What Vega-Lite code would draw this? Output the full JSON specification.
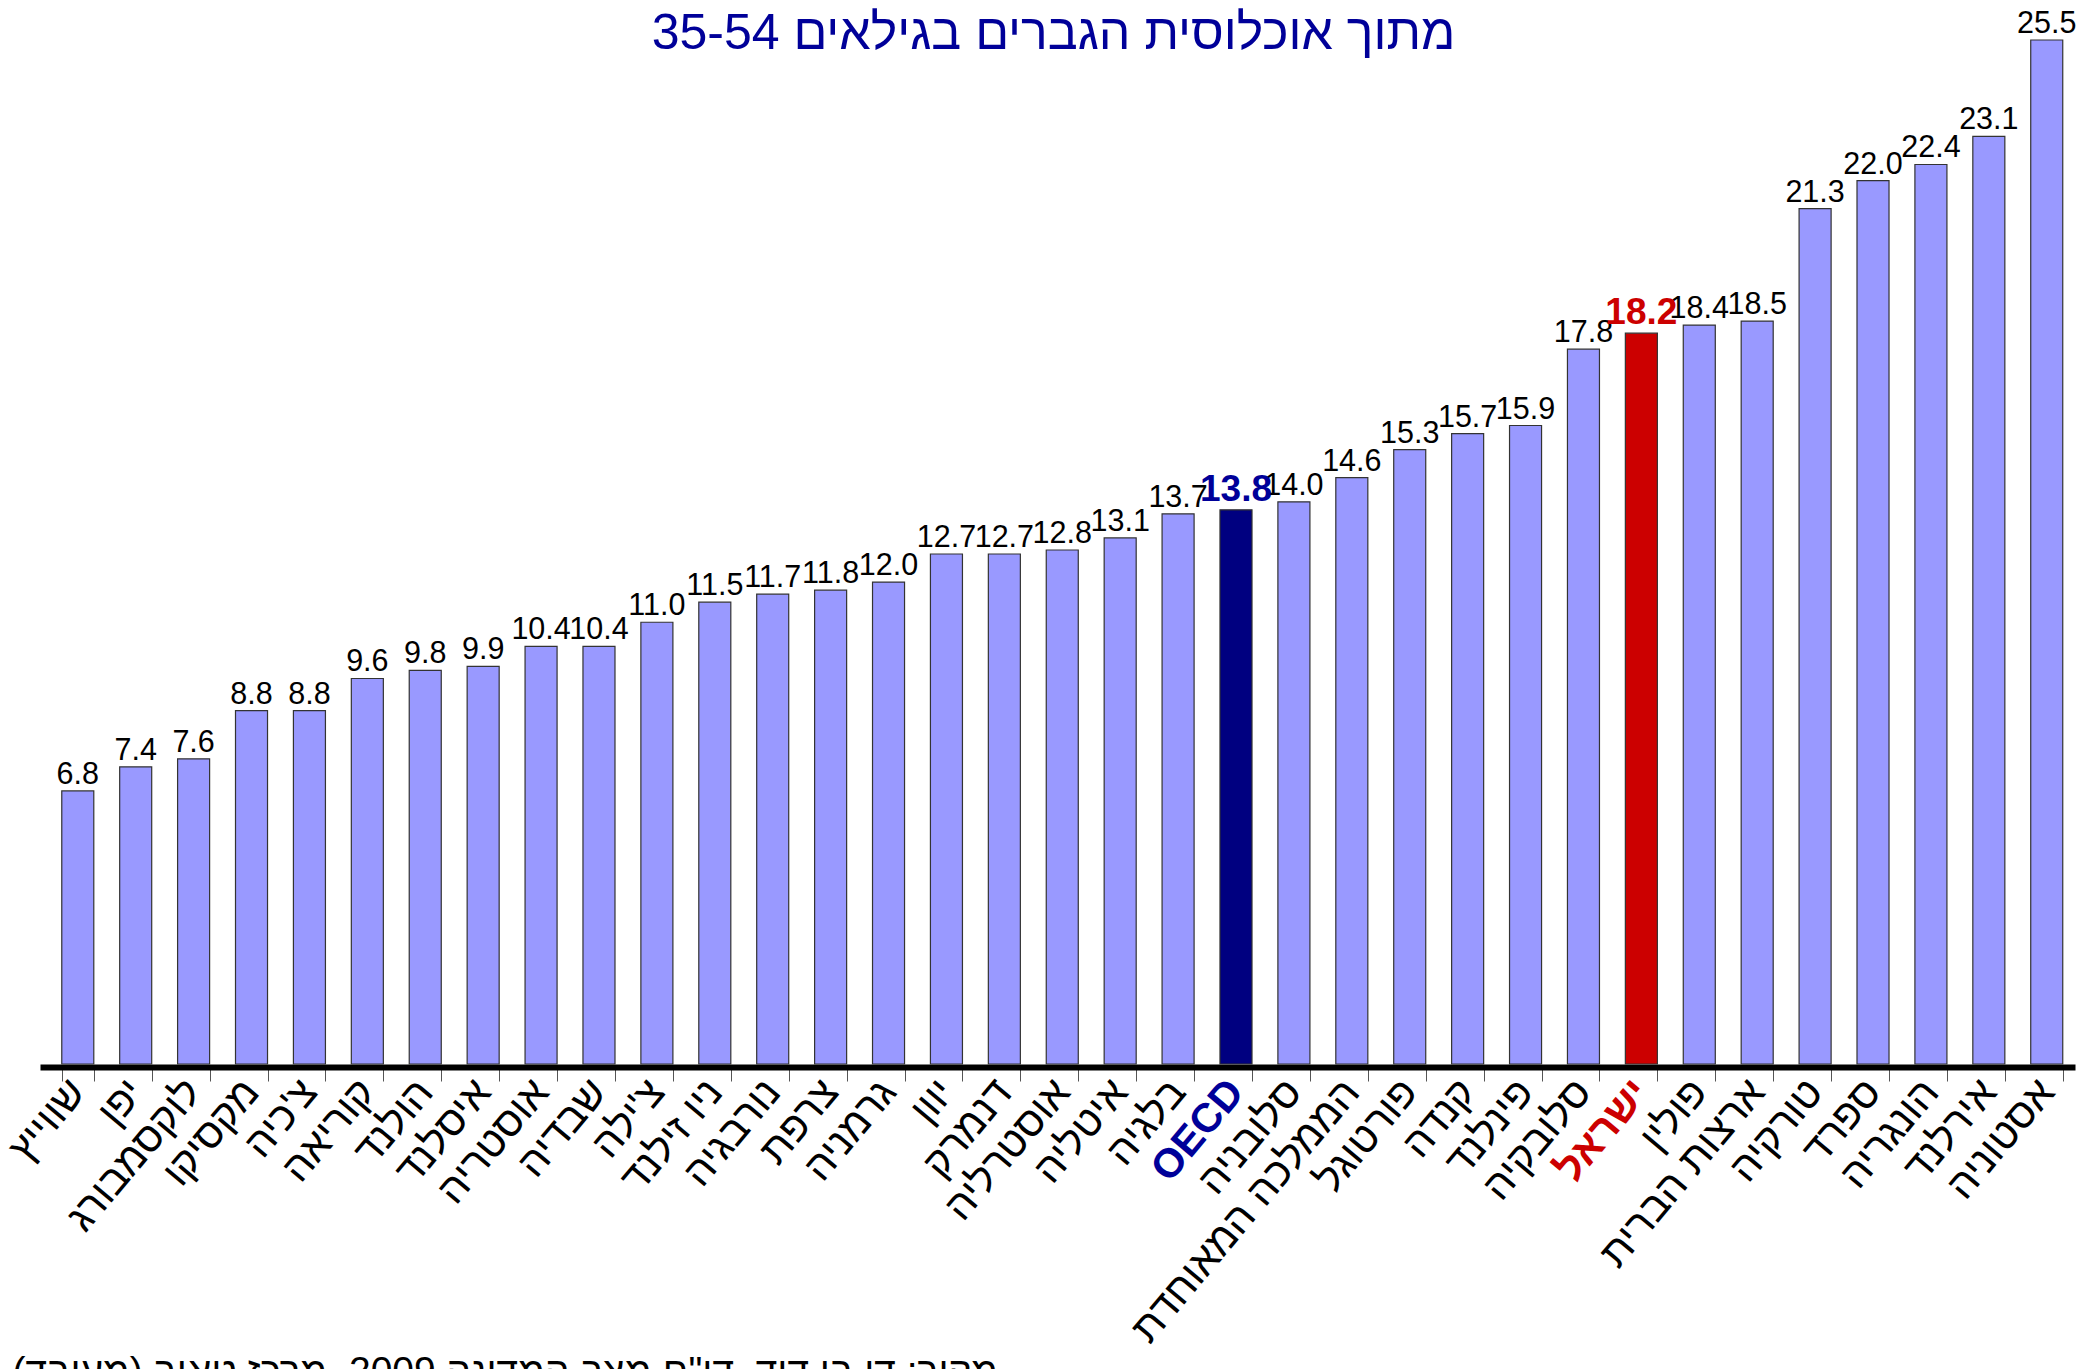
{
  "$schema": "https://vega.github.io/schema/vega-lite/v6.json",
  "width": 2035,
  "height": 1024,
  "autosize": {"type": "none"},
  "padding": {"left": 40, "top": 40, "right": 19, "bottom": 305},
  "background": "white",
  "config": {"view": {"stroke": null}},
  "title": {
    "text": "מתוך אוכלוסית הגברים בגילאים 35-54",
    "anchor": "middle",
    "frame": "group",
    "offset": -8,
    "dy": 82,
    "dx": -4,
    "baseline": "alphabetic",
    "fontSize": 50,
    "font": "Liberation Sans",
    "fontWeight": "normal",
    "color": "#000099"
  },
  "data": {
    "values": [
      {"country": "שווייץ", "value": 6.8, "group": "regular"},
      {"country": "יפן", "value": 7.4, "group": "regular"},
      {"country": "לוקסמבורג", "value": 7.6, "group": "regular"},
      {"country": "מקסיקו", "value": 8.8, "group": "regular"},
      {"country": "צ'כיה", "value": 8.8, "group": "regular"},
      {"country": "קוריאה", "value": 9.6, "group": "regular"},
      {"country": "הולנד", "value": 9.8, "group": "regular"},
      {"country": "איסלנד", "value": 9.9, "group": "regular"},
      {"country": "אוסטריה", "value": 10.4, "group": "regular"},
      {"country": "שבדיה", "value": 10.4, "group": "regular"},
      {"country": "צ'ילה", "value": 11.0, "group": "regular"},
      {"country": "ניו זילנד", "value": 11.5, "group": "regular"},
      {"country": "נורבגיה", "value": 11.7, "group": "regular"},
      {"country": "צרפת", "value": 11.8, "group": "regular"},
      {"country": "גרמניה", "value": 12.0, "group": "regular"},
      {"country": "יוון", "value": 12.7, "group": "regular"},
      {"country": "דנמרק", "value": 12.7, "group": "regular"},
      {"country": "אוסטרליה", "value": 12.8, "group": "regular"},
      {"country": "איטליה", "value": 13.1, "group": "regular"},
      {"country": "בלגיה", "value": 13.7, "group": "regular"},
      {"country": "OECD", "value": 13.8, "group": "oecd"},
      {"country": "סלובניה", "value": 14.0, "group": "regular"},
      {"country": "הממלכה המאוחדת", "value": 14.6, "group": "regular"},
      {"country": "פורטוגל", "value": 15.3, "group": "regular"},
      {"country": "קנדה", "value": 15.7, "group": "regular"},
      {"country": "פינלנד", "value": 15.9, "group": "regular"},
      {"country": "סלובקיה", "value": 17.8, "group": "regular"},
      {"country": "ישראל", "value": 18.2, "group": "israel"},
      {"country": "פולין", "value": 18.4, "group": "regular"},
      {"country": "ארצות הברית", "value": 18.5, "group": "regular"},
      {"country": "טורקיה", "value": 21.3, "group": "regular"},
      {"country": "ספרד", "value": 22.0, "group": "regular"},
      {"country": "הונגריה", "value": 22.4, "group": "regular"},
      {"country": "אירלנד", "value": 23.1, "group": "regular"},
      {"country": "אסטוניה", "value": 25.5, "group": "regular"}
    ]
  },
  "encoding": {
    "x": {
      "field": "country",
      "type": "nominal",
      "sort": null,
      "scale": {"paddingInner": 0.447, "paddingOuter": 0.2937, "align": 0.64},
      "axis": {
        "title": "‏מקור: דן בן דוד, דו\"ח מצב המדינה 2009, מרכז טאוב (מעובד)‏",
        "titleFont": "Liberation Sans",
        "titleFontSize": 39,
        "titleFontWeight": "normal",
        "titleColor": "black",
        "titleX": -28,
        "titleY": 316,
        "titleAlign": "left",
        "titleAnchor": "start",
        "titleBaseline": "alphabetic",
        "labelAngle": -50,
        "labelFont": "Liberation Sans",
        "labelFontSize": 41,
        "labelColor": {"expr": "datum.value == 'OECD' ? '#000099' : (datum.value == 'ישראל' ? '#cc0000' : 'black')"},
        "labelFontWeight": {"expr": "(datum.value == 'OECD' || datum.value == 'ישראל') ? 'bold' : 'normal'"},
        "labelPadding": 4,
        "labelLimit": 0,
        "labelOverlap": false,
        "labelBound": false,
        "tickBand": "extent",
        "tickSize": 14,
        "tickColor": "#555555",
        "tickWidth": 1,
        "domainColor": "black",
        "domainWidth": 6,
        "offset": 3,
        "grid": false
      }
    },
    "y": {
      "field": "value",
      "type": "quantitative",
      "scale": {"domain": [0, 25.5], "nice": false, "zero": true},
      "axis": null
    }
  },
  "layer": [
    {
      "mark": {"type": "bar", "stroke": "#333333", "strokeWidth": 1.2},
      "encoding": {
        "color": {
          "condition": [
            {"test": "datum.group == 'oecd'", "value": "#000080"},
            {"test": "datum.group == 'israel'", "value": "#cc0000"}
          ],
          "value": "#9999ff"
        }
      }
    },
    {
      "transform": [{"filter": "datum.group == 'regular'"}],
      "mark": {"type": "text", "baseline": "alphabetic", "dy": -7, "font": "Liberation Sans", "fontSize": 30.5, "color": "black"},
      "encoding": {"text": {"field": "value", "type": "quantitative", "format": ".1f"}}
    },
    {
      "transform": [{"filter": "datum.group != 'regular'"}],
      "mark": {"type": "text", "baseline": "alphabetic", "dy": -9, "font": "Liberation Sans", "fontSize": 37, "fontWeight": "bold"},
      "encoding": {
        "text": {"field": "value", "type": "quantitative", "format": ".1f"},
        "color": {"condition": {"test": "datum.group == 'israel'", "value": "#cc0000"}, "value": "#000099"}
      }
    }
  ]
}
